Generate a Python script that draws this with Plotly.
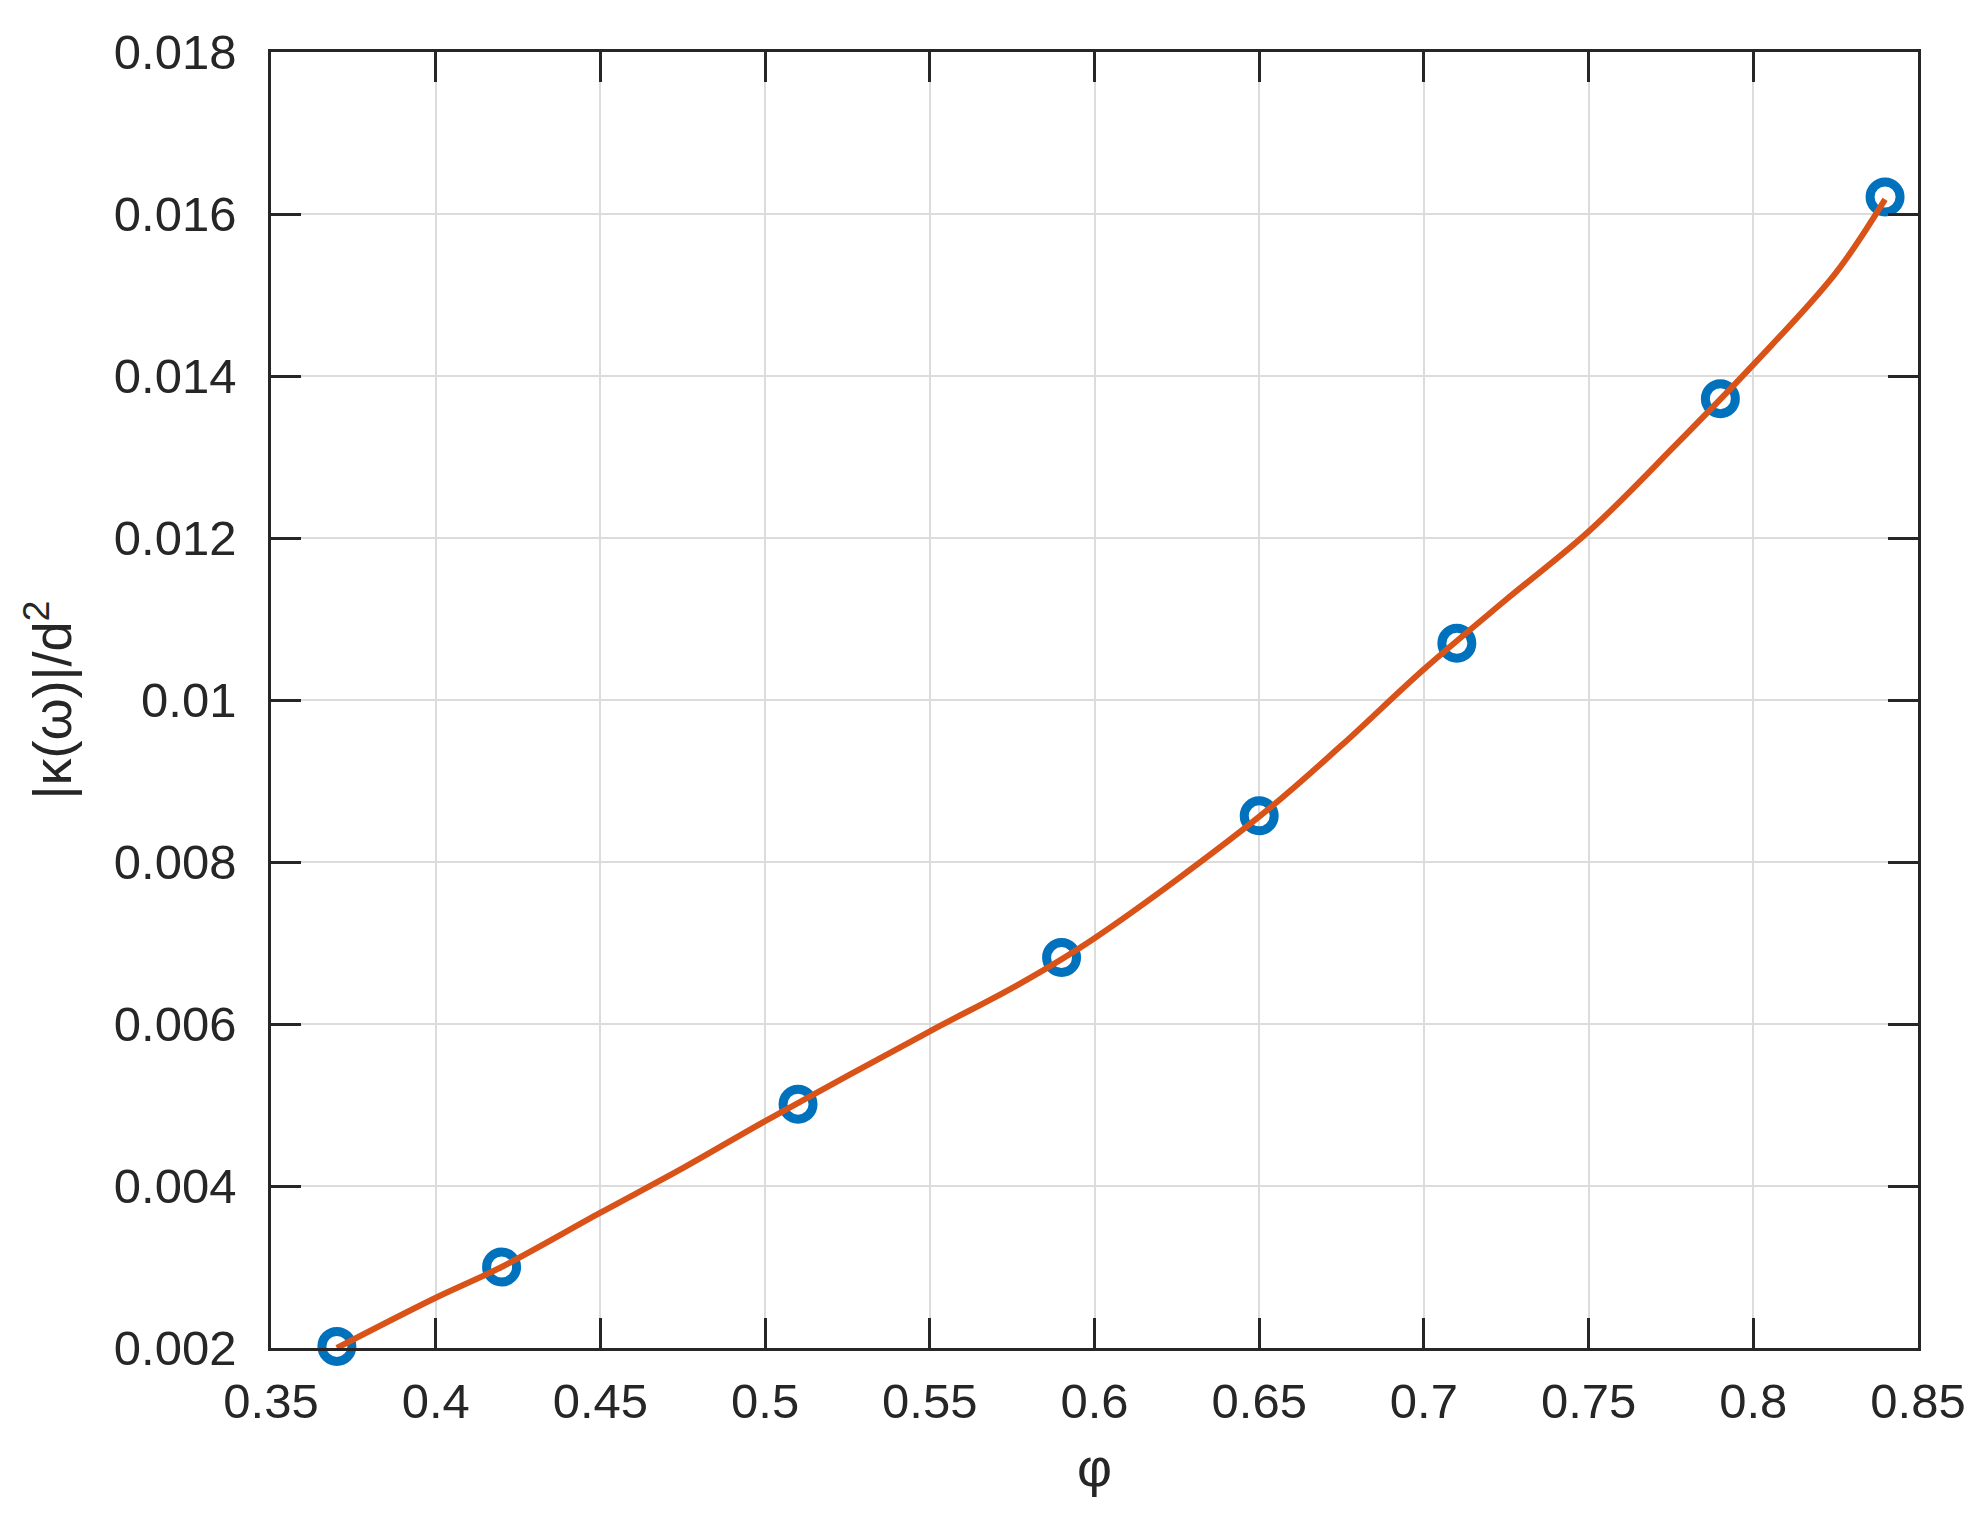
import plotly.graph_objects as go

# Measured data (markers)
phi_pts = [0.37, 0.42, 0.51, 0.59, 0.65, 0.71, 0.79, 0.84]
kappa_pts = [0.00202, 0.00300, 0.00501, 0.00682, 0.00857, 0.01070, 0.01372, 0.01621]

# Fitted curve
phi_fit = [0.37, 0.40, 0.42, 0.45, 0.475, 0.50, 0.55, 0.577, 0.60, 0.65, 0.675,
           0.70, 0.725, 0.75, 0.776, 0.80, 0.825, 0.84]
kappa_fit = [0.00200, 0.00262, 0.00300, 0.00367, 0.00422, 0.00480, 0.00591, 0.00649, 0.00706,
             0.00856, 0.00944, 0.01038, 0.01124, 0.01208, 0.01313, 0.01414, 0.01527, 0.01618]

x_ticks = [0.35, 0.4, 0.45, 0.5, 0.55, 0.6, 0.65, 0.7, 0.75, 0.8, 0.85]
x_labels = ["0.35", "0.4", "0.45", "0.5", "0.55", "0.6", "0.65", "0.7", "0.75", "0.8", "0.85"]
y_ticks = [0.002, 0.004, 0.006, 0.008, 0.010, 0.012, 0.014, 0.016, 0.018]
y_labels = ["0.002", "0.004", "0.006", "0.008", "0.01", "0.012", "0.014", "0.016", "0.018"]

FONT = "Liberation Sans, Arial, Helvetica, sans-serif"
TXT = "#262626"

fig = go.Figure()
fig.add_trace(go.Scatter(
    x=phi_pts, y=kappa_pts, mode="markers",
    marker=dict(symbol="circle-open", size=30, color="#0072BD", line=dict(width=9, color="#0072BD")),
    showlegend=False, cliponaxis=False,
))
fig.add_trace(go.Scatter(
    x=phi_fit, y=kappa_fit, mode="lines",
    line=dict(color="#D95319", width=6, shape="spline", smoothing=1.0),
    showlegend=False,
))

axis_common = dict(
    showline=True, linecolor=TXT, linewidth=2.5, mirror="ticks",
    ticks="inside", ticklen=30, tickwidth=2.5, tickcolor=TXT,
    showgrid=True, gridcolor="#DCDCDC", gridwidth=2,
    zeroline=False,
    tickfont=dict(family=FONT, size=49, color=TXT),
)

fig.update_layout(
    width=1984, height=1526,
    margin=dict(l=263, r=74, t=44, b=186),
    paper_bgcolor="white", plot_bgcolor="white",
    font=dict(family=FONT, color=TXT),
    xaxis=dict(
        range=[0.35, 0.85], tickvals=x_ticks, ticktext=x_labels,
        ticklabelstandoff=8,
        title=dict(text="φ", font=dict(family=FONT, size=54, color=TXT), standoff=22),
        **axis_common,
    ),
    yaxis=dict(
        range=[0.002, 0.018], tickvals=y_ticks, ticktext=y_labels,
        ticklabelstandoff=22,
        title=dict(text="|κ(ω)|/d<sup>2</sup>", font=dict(family=FONT, size=54, color=TXT), standoff=25),
        **axis_common,
    ),
)

fig.write_html("out.html")
